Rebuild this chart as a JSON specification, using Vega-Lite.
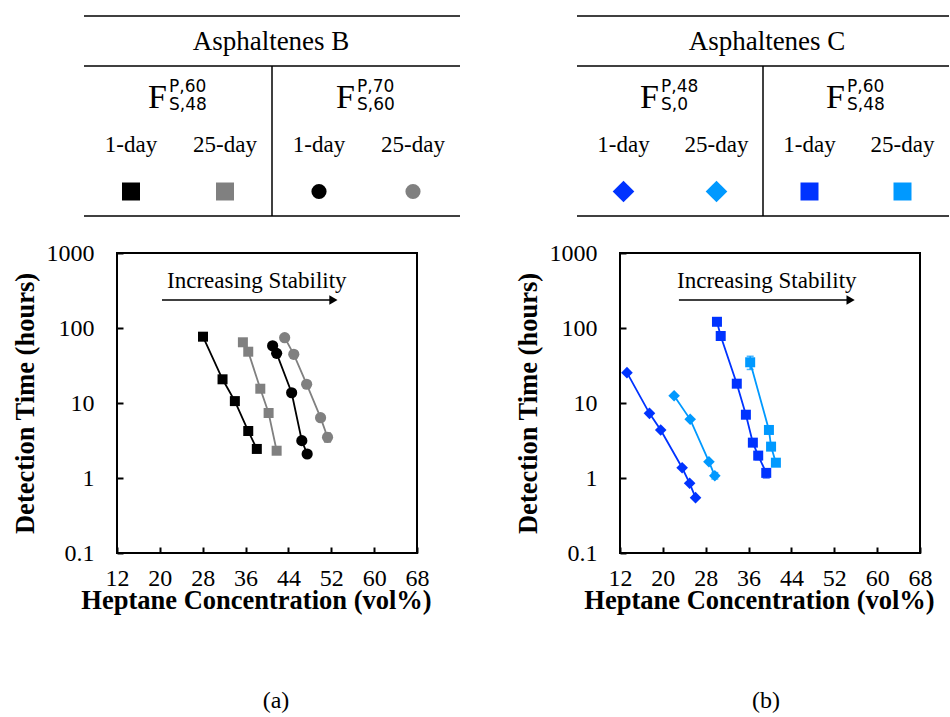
{
  "$schema": "https://vega.github.io/schema/vega-lite/v6.json",
  "padding": {"left": 10, "top": 15, "right": 0, "bottom": 0},
  "background": "white",
  "config": {
    "view": {"stroke": null},
    "font": "Liberation Serif",
    "axis": {
      "labelFont": "Liberation Serif", "labelFontSize": 24, "labelColor": "black",
      "titleFont": "Liberation Serif", "titleFontSize": 26.5, "titleFontWeight": "bold", "titleColor": "black",
      "tickColor": "black", "tickWidth": 2, "tickSize": -6,
      "domain": false, "grid": false, "labelFlush": false, "labelOverlap": false, "labelBound": false
    }
  },
  "columns": 2,
  "spacing": {"row": 37, "column": 203},
  "align": "each",
  "bounds": "flush",
  "datasets": {
    "series": [
      {"panel": "B", "series": "B FS48P60 1-day", "period": "1-day", "sup": "P,60", "sub": "S,48"},
      {"panel": "B", "series": "B FS48P60 25-day", "period": "25-day", "sup": "P,60", "sub": "S,48"},
      {"panel": "B", "series": "B FS60P70 1-day", "period": "1-day", "sup": "P,70", "sub": "S,60"},
      {"panel": "B", "series": "B FS60P70 25-day", "period": "25-day", "sup": "P,70", "sub": "S,60"},
      {"panel": "C", "series": "C FS0P48 1-day", "period": "1-day", "sup": "P,48", "sub": "S,0"},
      {"panel": "C", "series": "C FS0P48 25-day", "period": "25-day", "sup": "P,48", "sub": "S,0"},
      {"panel": "C", "series": "C FS48P60 1-day", "period": "1-day", "sup": "P,60", "sub": "S,48"},
      {"panel": "C", "series": "C FS48P60 25-day", "period": "25-day", "sup": "P,60", "sub": "S,48"}
    ],
    "points": [
      {"panel": "B", "series": "B FS48P60 1-day", "x": 28.05, "y": 76.6},
      {"panel": "B", "series": "B FS48P60 1-day", "x": 31.7, "y": 20.7},
      {"panel": "B", "series": "B FS48P60 1-day", "x": 34.0, "y": 10.6},
      {"panel": "B", "series": "B FS48P60 1-day", "x": 36.5, "y": 4.23},
      {"panel": "B", "series": "B FS48P60 1-day", "x": 38.1, "y": 2.44},
      {"panel": "B", "series": "B FS48P60 25-day", "x": 35.5, "y": 64.5},
      {"panel": "B", "series": "B FS48P60 25-day", "x": 36.5, "y": 48.3},
      {"panel": "B", "series": "B FS48P60 25-day", "x": 38.75, "y": 15.5},
      {"panel": "B", "series": "B FS48P60 25-day", "x": 40.3, "y": 7.36},
      {"panel": "B", "series": "B FS48P60 25-day", "x": 41.8, "y": 2.31},
      {"panel": "B", "series": "B FS60P70 1-day", "x": 41.05, "y": 58},
      {"panel": "B", "series": "B FS60P70 1-day", "x": 41.8, "y": 45.9},
      {"panel": "B", "series": "B FS60P70 1-day", "x": 44.6, "y": 13.7},
      {"panel": "B", "series": "B FS60P70 1-day", "x": 46.5, "y": 3.15},
      {"panel": "B", "series": "B FS60P70 1-day", "x": 47.5, "y": 2.09},
      {"panel": "B", "series": "B FS60P70 25-day", "x": 43.3, "y": 74.3},
      {"panel": "B", "series": "B FS60P70 25-day", "x": 45.0, "y": 44.6},
      {"panel": "B", "series": "B FS60P70 25-day", "x": 47.4, "y": 17.8},
      {"panel": "B", "series": "B FS60P70 25-day", "x": 50.0, "y": 6.37},
      {"panel": "B", "series": "B FS60P70 25-day", "x": 51.3, "y": 3.49, "lo": 3.0, "hi": 4.0},
      {"panel": "C", "series": "C FS0P48 1-day", "x": 13.3, "y": 25.4},
      {"panel": "C", "series": "C FS0P48 1-day", "x": 17.5, "y": 7.28},
      {"panel": "C", "series": "C FS0P48 1-day", "x": 19.6, "y": 4.37},
      {"panel": "C", "series": "C FS0P48 1-day", "x": 23.6, "y": 1.37},
      {"panel": "C", "series": "C FS0P48 1-day", "x": 25.0, "y": 0.85},
      {"panel": "C", "series": "C FS0P48 1-day", "x": 26.1, "y": 0.547},
      {"panel": "C", "series": "C FS0P48 25-day", "x": 22.1, "y": 12.5},
      {"panel": "C", "series": "C FS0P48 25-day", "x": 25.1, "y": 6.06},
      {"panel": "C", "series": "C FS0P48 25-day", "x": 28.6, "y": 1.65},
      {"panel": "C", "series": "C FS0P48 25-day", "x": 29.7, "y": 1.07, "lo": 0.97, "hi": 1.18},
      {"panel": "C", "series": "C FS48P60 1-day", "x": 30.1, "y": 121},
      {"panel": "C", "series": "C FS48P60 1-day", "x": 30.8, "y": 78.2},
      {"panel": "C", "series": "C FS48P60 1-day", "x": 33.8, "y": 18.1},
      {"panel": "C", "series": "C FS48P60 1-day", "x": 35.5, "y": 6.98},
      {"panel": "C", "series": "C FS48P60 1-day", "x": 36.8, "y": 2.96},
      {"panel": "C", "series": "C FS48P60 1-day", "x": 37.8, "y": 1.99, "lo": 1.75, "hi": 2.2},
      {"panel": "C", "series": "C FS48P60 1-day", "x": 39.3, "y": 1.17, "lo": 1.0, "hi": 1.3},
      {"panel": "C", "series": "C FS48P60 25-day", "x": 36.3, "y": 34.9, "lo": 28, "hi": 42},
      {"panel": "C", "series": "C FS48P60 25-day", "x": 39.8, "y": 4.37},
      {"panel": "C", "series": "C FS48P60 25-day", "x": 40.2, "y": 2.62},
      {"panel": "C", "series": "C FS48P60 25-day", "x": 41.1, "y": 1.6}
    ],
    "note": [{"label": "Increasing Stability"}]
  },
  "concat": [
    {
      "width": 300, "height": 200,
      "data": {"name": "series"},
      "transform": [{"filter": "datum.panel == 'B'"}],
      "layer": [
        {"mark": {"type": "rect", "color": "black"},
         "encoding": {
           "x": {"field": "series", "type": "nominal", "sort": null, "axis": null,
                 "scale": {"type": "band", "paddingInner": 0, "paddingOuter": 0, "range": [-33, 343], "domain": ["B FS48P60 1-day", "B FS48P60 25-day", "B FS60P70 1-day", "B FS60P70 25-day"]}},
           "y": {"datum": -0.015, "type": "quantitative", "scale": {"domain": [0, 4], "reverse": true, "nice": false, "zero": false}, "axis": null},
           "y2": {"datum": 0.015}
         }},
        {"mark": {"type": "rect", "color": "black"},
         "encoding": {
           "x": {"field": "series", "type": "nominal", "sort": null, "axis": null},
           "y": {"datum": 0.985, "type": "quantitative", "axis": null},
           "y2": {"datum": 1.015}
         }},
        {"mark": {"type": "rect", "color": "black"},
         "encoding": {
           "x": {"field": "series", "type": "nominal", "sort": null, "axis": null},
           "y": {"datum": 3.985, "type": "quantitative", "axis": null},
           "y2": {"datum": 4.015}
         }},
        {"transform": [{"filter": "datum.series == 'B FS60P70 1-day'"}],
         "mark": {"type": "rule", "strokeWidth": 1.5, "color": "black"},
         "encoding": {
           "x": {"field": "series", "type": "nominal", "bandPosition": 0, "sort": null, "axis": null},
           "y": {"datum": 1, "type": "quantitative", "axis": null},
           "y2": {"datum": 4}
         }},
        {"data": {"values": [{}]}, "mark": {"type": "text", "text": "Asphaltenes B", "fontSize": 27, "baseline": "alphabetic", "color": "black", "dx": 4},
         "encoding": {"y": {"datum": 0.68, "type": "quantitative", "axis": null}}},
        {"transform": [{"filter": "datum.period == '1-day'"}],
         "mark": {"type": "text", "text": "F", "fontSize": 34, "align": "right", "dx": -11, "baseline": "alphabetic", "color": "black"},
         "encoding": {
           "x": {"field": "series", "type": "nominal", "bandPosition": 1, "sort": null, "axis": null},
           "y": {"datum": 1.84, "type": "quantitative", "axis": null}
         }},
        {"transform": [{"filter": "datum.period == '1-day'"}],
         "mark": {"type": "text", "font": "DejaVu Sans", "fontSize": 17, "align": "left", "dx": -9, "baseline": "alphabetic", "color": "black"},
         "encoding": {
           "x": {"field": "series", "type": "nominal", "bandPosition": 1, "sort": null, "axis": null},
           "y": {"datum": 1.51, "type": "quantitative", "axis": null},
           "text": {"field": "sup"}
         }},
        {"transform": [{"filter": "datum.period == '1-day'"}],
         "mark": {"type": "text", "font": "DejaVu Sans", "fontSize": 17, "align": "left", "dx": -9, "baseline": "alphabetic", "color": "black"},
         "encoding": {
           "x": {"field": "series", "type": "nominal", "bandPosition": 1, "sort": null, "axis": null},
           "y": {"datum": 1.87, "type": "quantitative", "axis": null},
           "text": {"field": "sub"}
         }},
        {"mark": {"type": "text", "fontSize": 23, "baseline": "alphabetic", "color": "black"},
         "encoding": {
           "x": {"field": "series", "type": "nominal", "sort": null, "axis": null},
           "y": {"datum": 2.71, "type": "quantitative", "axis": null},
           "text": {"field": "period"}
         }},
        {"transform": [{"filter": "indexof(datum.series, 'FS48P60') >= 0"}],
         "mark": {"type": "point", "filled": true, "opacity": 1, "shape": "square", "size": 324},
         "encoding": {
           "x": {"field": "series", "type": "nominal", "sort": null, "axis": null},
           "y": {"datum": 3.51, "type": "quantitative", "axis": null},
           "color": {"field": "series", "type": "nominal", "legend": null,
                     "scale": {"domain": ["B FS48P60 1-day", "B FS48P60 25-day", "B FS60P70 1-day", "B FS60P70 25-day", "C FS0P48 1-day", "C FS0P48 25-day", "C FS48P60 1-day", "C FS48P60 25-day"],
                               "range": ["#000000", "#808080", "#000000", "#808080", "#0033FF", "#0099FF", "#0033FF", "#0099FF"]}}
         }},
        {"transform": [{"filter": "indexof(datum.series, 'FS60P70') >= 0"}],
         "mark": {"type": "point", "filled": true, "opacity": 1, "shape": "circle", "size": 230},
         "encoding": {
           "x": {"field": "series", "type": "nominal", "sort": null, "axis": null},
           "y": {"datum": 3.51, "type": "quantitative", "axis": null},
           "color": {"field": "series", "type": "nominal", "legend": null}
         }}
      ]
    },
    {
      "width": 300, "height": 200,
      "data": {"name": "series"},
      "transform": [{"filter": "datum.panel == 'C'"}],
      "layer": [
        {"mark": {"type": "rect", "color": "black"},
         "encoding": {
           "x": {"field": "series", "type": "nominal", "sort": null, "axis": null,
                 "scale": {"type": "band", "paddingInner": 0, "paddingOuter": 0, "range": [-43, 329], "domain": ["C FS0P48 1-day", "C FS0P48 25-day", "C FS48P60 1-day", "C FS48P60 25-day"]}},
           "y": {"datum": -0.015, "type": "quantitative", "scale": {"domain": [0, 4], "reverse": true, "nice": false, "zero": false}, "axis": null},
           "y2": {"datum": 0.015}
         }},
        {"mark": {"type": "rect", "color": "black"},
         "encoding": {
           "x": {"field": "series", "type": "nominal", "sort": null, "axis": null},
           "y": {"datum": 0.985, "type": "quantitative", "axis": null},
           "y2": {"datum": 1.015}
         }},
        {"mark": {"type": "rect", "color": "black"},
         "encoding": {
           "x": {"field": "series", "type": "nominal", "sort": null, "axis": null},
           "y": {"datum": 3.985, "type": "quantitative", "axis": null},
           "y2": {"datum": 4.015}
         }},
        {"transform": [{"filter": "datum.series == 'C FS48P60 1-day'"}],
         "mark": {"type": "rule", "strokeWidth": 1.5, "color": "black"},
         "encoding": {
           "x": {"field": "series", "type": "nominal", "bandPosition": 0, "sort": null, "axis": null},
           "y": {"datum": 1, "type": "quantitative", "axis": null},
           "y2": {"datum": 4}
         }},
        {"data": {"values": [{}]}, "mark": {"type": "text", "text": "Asphaltenes C", "fontSize": 27, "baseline": "alphabetic", "color": "black", "dx": -3},
         "encoding": {"y": {"datum": 0.68, "type": "quantitative", "axis": null}}},
        {"transform": [{"filter": "datum.period == '1-day'"}],
         "mark": {"type": "text", "text": "F", "fontSize": 34, "align": "right", "dx": -11, "baseline": "alphabetic", "color": "black"},
         "encoding": {
           "x": {"field": "series", "type": "nominal", "bandPosition": 1, "sort": null, "axis": null},
           "y": {"datum": 1.84, "type": "quantitative", "axis": null}
         }},
        {"transform": [{"filter": "datum.period == '1-day'"}],
         "mark": {"type": "text", "font": "DejaVu Sans", "fontSize": 17, "align": "left", "dx": -9, "baseline": "alphabetic", "color": "black"},
         "encoding": {
           "x": {"field": "series", "type": "nominal", "bandPosition": 1, "sort": null, "axis": null},
           "y": {"datum": 1.51, "type": "quantitative", "axis": null},
           "text": {"field": "sup"}
         }},
        {"transform": [{"filter": "datum.period == '1-day'"}],
         "mark": {"type": "text", "font": "DejaVu Sans", "fontSize": 17, "align": "left", "dx": -9, "baseline": "alphabetic", "color": "black"},
         "encoding": {
           "x": {"field": "series", "type": "nominal", "bandPosition": 1, "sort": null, "axis": null},
           "y": {"datum": 1.87, "type": "quantitative", "axis": null},
           "text": {"field": "sub"}
         }},
        {"mark": {"type": "text", "fontSize": 23, "baseline": "alphabetic", "color": "black"},
         "encoding": {
           "x": {"field": "series", "type": "nominal", "sort": null, "axis": null},
           "y": {"datum": 2.71, "type": "quantitative", "axis": null},
           "text": {"field": "period"}
         }},
        {"transform": [{"filter": "indexof(datum.series, 'FS0P48') >= 0"}],
         "mark": {"type": "point", "filled": true, "opacity": 1, "shape": "diamond", "size": 470},
         "encoding": {
           "x": {"field": "series", "type": "nominal", "sort": null, "axis": null},
           "y": {"datum": 3.51, "type": "quantitative", "axis": null},
           "color": {"field": "series", "type": "nominal", "legend": null}
         }},
        {"transform": [{"filter": "indexof(datum.series, 'FS48P60') >= 0"}],
         "mark": {"type": "point", "filled": true, "opacity": 1, "shape": "square", "size": 324},
         "encoding": {
           "x": {"field": "series", "type": "nominal", "sort": null, "axis": null},
           "y": {"datum": 3.51, "type": "quantitative", "axis": null},
           "color": {"field": "series", "type": "nominal", "legend": null}
         }}
      ]
    },
    {
      "width": 300, "height": 300,
      "view": {"stroke": "black", "strokeWidth": 2},
      "title": {"text": "(a)", "orient": "bottom", "anchor": "middle", "frame": "group", "baseline": "top", "fontSize": 24, "fontWeight": "normal", "font": "Liberation Serif", "color": "black", "dx": 9, "offset": 75},
      "layer": [
        {"data": {"name": "points"}, "transform": [{"filter": "datum.panel == 'B'"}],
         "mark": {"type": "line", "strokeWidth": 1.8},
         "encoding": {
           "x": {"field": "x", "type": "quantitative", "title": "Heptane Concentration (vol%)",
                 "scale": {"domain": [12, 68], "nice": false, "zero": false},
                 "axis": {"values": [12, 20, 28, 36, 44, 52, 60, 68], "labelFont": "Liberation Serif", "labelPadding": 19, "titlePadding": -3, "titleX": 139, "titleAlign": "center"}},
           "y": {"field": "y", "type": "quantitative", "title": "Detection Time (hours)",
                 "scale": {"type": "log", "domain": [0.1, 1000], "nice": false},
                 "axis": {"values": [0.1, 1, 10, 100, 1000], "format": "~g", "labelFont": "Liberation Serif", "labelPadding": 29, "titlePadding": 7}},
           "color": {"field": "series", "type": "nominal", "legend": null},
           "detail": {"field": "series"}
         }},
        {"data": {"name": "points"}, "transform": [{"filter": "datum.panel == 'B' && isValid(datum.lo)"}],
         "mark": {"type": "errorbar", "ticks": {"size": 7}, "thickness": 1.5},
         "encoding": {
           "x": {"field": "x", "type": "quantitative", "title": "Heptane Concentration (vol%)"},
           "y": {"field": "lo", "type": "quantitative", "title": "Detection Time (hours)"},
           "y2": {"field": "hi"},
           "color": {"field": "series", "type": "nominal", "legend": null}
         }},
        {"data": {"name": "points"}, "transform": [{"filter": "datum.panel == 'B' && indexof(datum.series, 'FS48P60') >= 0"}],
         "mark": {"type": "point", "filled": true, "opacity": 1, "shape": "square", "size": 100},
         "encoding": {
           "x": {"field": "x", "type": "quantitative", "title": "Heptane Concentration (vol%)"},
           "y": {"field": "y", "type": "quantitative", "title": "Detection Time (hours)"},
           "color": {"field": "series", "type": "nominal", "legend": null}
         }},
        {"data": {"name": "points"}, "transform": [{"filter": "datum.panel == 'B' && indexof(datum.series, 'FS60P70') >= 0"}],
         "mark": {"type": "point", "filled": true, "opacity": 1, "shape": "circle", "size": 125},
         "encoding": {
           "x": {"field": "x", "type": "quantitative", "title": "Heptane Concentration (vol%)"},
           "y": {"field": "y", "type": "quantitative", "title": "Detection Time (hours)"},
           "color": {"field": "series", "type": "nominal", "legend": null}
         }},
        {"data": {"name": "note"}, "mark": {"type": "text", "fontSize": 23, "baseline": "alphabetic", "color": "black"},
         "encoding": {"x": {"datum": 38.1, "type": "quantitative"}, "y": {"datum": 338, "type": "quantitative"}, "text": {"field": "label"}}},
        {"data": {"name": "note"}, "mark": {"type": "rule", "strokeWidth": 1.5, "color": "black"},
         "encoding": {"x": {"datum": 20.4, "type": "quantitative"}, "x2": {"datum": 52}, "y": {"datum": 236, "type": "quantitative"}}},
        {"data": {"name": "note"}, "mark": {"type": "point", "shape": "triangle-right", "filled": true, "color": "black", "size": 90, "opacity": 1},
         "encoding": {"x": {"datum": 52.4, "type": "quantitative"}, "y": {"datum": 236, "type": "quantitative"}}}
      ]
    },
    {
      "width": 300, "height": 300,
      "view": {"stroke": "black", "strokeWidth": 2},
      "title": {"text": "(b)", "orient": "bottom", "anchor": "middle", "frame": "group", "baseline": "top", "fontSize": 24, "fontWeight": "normal", "font": "Liberation Serif", "color": "black", "dx": -4, "offset": 75},
      "layer": [
        {"data": {"name": "points"}, "transform": [{"filter": "datum.panel == 'C'"}],
         "mark": {"type": "line", "strokeWidth": 1.8},
         "encoding": {
           "x": {"field": "x", "type": "quantitative", "title": "Heptane Concentration (vol%)",
                 "scale": {"domain": [12, 68], "nice": false, "zero": false},
                 "axis": {"values": [12, 20, 28, 36, 44, 52, 60, 68], "labelFont": "Liberation Serif", "labelPadding": 19, "titlePadding": -3, "titleX": 139, "titleAlign": "center"}},
           "y": {"field": "y", "type": "quantitative", "title": "Detection Time (hours)",
                 "scale": {"type": "log", "domain": [0.1, 1000], "nice": false},
                 "axis": {"values": [0.1, 1, 10, 100, 1000], "format": "~g", "labelFont": "Liberation Serif", "labelPadding": 29, "titlePadding": 7}},
           "color": {"field": "series", "type": "nominal", "legend": null},
           "detail": {"field": "series"}
         }},
        {"data": {"name": "points"}, "transform": [{"filter": "datum.panel == 'C' && isValid(datum.lo)"}],
         "mark": {"type": "errorbar", "ticks": {"size": 7}, "thickness": 1.5},
         "encoding": {
           "x": {"field": "x", "type": "quantitative", "title": "Heptane Concentration (vol%)"},
           "y": {"field": "lo", "type": "quantitative", "title": "Detection Time (hours)"},
           "y2": {"field": "hi"},
           "color": {"field": "series", "type": "nominal", "legend": null}
         }},
        {"data": {"name": "points"}, "transform": [{"filter": "datum.panel == 'C' && indexof(datum.series, 'FS0P48') >= 0"}],
         "mark": {"type": "point", "filled": true, "opacity": 1, "shape": "diamond", "size": 135},
         "encoding": {
           "x": {"field": "x", "type": "quantitative", "title": "Heptane Concentration (vol%)"},
           "y": {"field": "y", "type": "quantitative", "title": "Detection Time (hours)"},
           "color": {"field": "series", "type": "nominal", "legend": null}
         }},
        {"data": {"name": "points"}, "transform": [{"filter": "datum.panel == 'C' && indexof(datum.series, 'FS48P60') >= 0"}],
         "mark": {"type": "point", "filled": true, "opacity": 1, "shape": "square", "size": 100},
         "encoding": {
           "x": {"field": "x", "type": "quantitative", "title": "Heptane Concentration (vol%)"},
           "y": {"field": "y", "type": "quantitative", "title": "Detection Time (hours)"},
           "color": {"field": "series", "type": "nominal", "legend": null}
         }},
        {"data": {"name": "note"}, "mark": {"type": "text", "fontSize": 23, "baseline": "alphabetic", "color": "black"},
         "encoding": {"x": {"datum": 39.4, "type": "quantitative"}, "y": {"datum": 338, "type": "quantitative"}, "text": {"field": "label"}}},
        {"data": {"name": "note"}, "mark": {"type": "rule", "strokeWidth": 1.5, "color": "black"},
         "encoding": {"x": {"datum": 23.0, "type": "quantitative"}, "x2": {"datum": 54.7}, "y": {"datum": 236, "type": "quantitative"}}},
        {"data": {"name": "note"}, "mark": {"type": "point", "shape": "triangle-right", "filled": true, "color": "black", "size": 90, "opacity": 1},
         "encoding": {"x": {"datum": 55.05, "type": "quantitative"}, "y": {"datum": 236, "type": "quantitative"}}}
      ]
    }
  ]
}
